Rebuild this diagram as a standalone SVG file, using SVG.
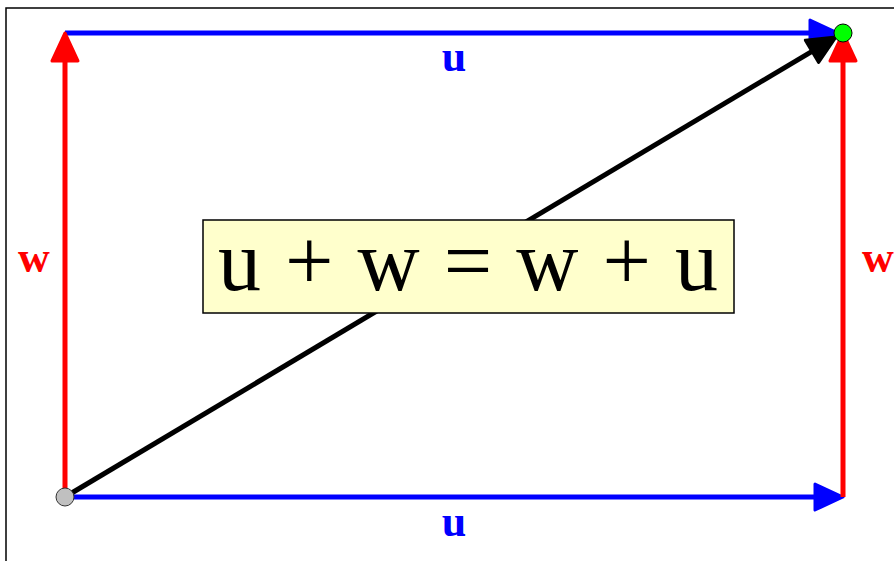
<svg xmlns="http://www.w3.org/2000/svg" width="894" height="561" viewBox="0 0 894 561">
<style>
.lbl{font-family:"Liberation Serif","Times New Roman",serif;font-weight:bold;font-size:44px;text-anchor:middle}
.blue{fill:#0000ff}
.red{fill:#ff0000}
.vec{stroke-width:5;fill:none;stroke-linecap:butt}
</style>
<defs>
<marker id="ab" markerUnits="userSpaceOnUse" markerWidth="40" markerHeight="40" refX="2" refY="0" viewBox="-4 -18 40 36" orient="auto" overflow="visible">
<path d="M0,-13 L28,0 L0,13 Z" fill="#0000ff" stroke="#0000ff" stroke-width="3" stroke-linejoin="round"/>
</marker>
<marker id="ar" markerUnits="userSpaceOnUse" markerWidth="40" markerHeight="40" refX="2" refY="0" viewBox="-4 -18 40 36" orient="auto" overflow="visible">
<path d="M0,-13 L28,0 L0,13 Z" fill="#ff0000" stroke="#ff0000" stroke-width="3" stroke-linejoin="round"/>
</marker>
<marker id="ak" markerUnits="userSpaceOnUse" markerWidth="40" markerHeight="40" refX="2" refY="0" viewBox="-4 -18 40 36" orient="auto" overflow="visible">
<path d="M0,-13 L28,0 L0,13 Z" fill="#000000" stroke="#000000" stroke-width="3" stroke-linejoin="round"/>
</marker>
</defs>
<rect x="0" y="0" width="894" height="561" fill="#ffffff"/>
<rect x="6" y="8" width="900" height="600" fill="#ffffff" stroke="#000000" stroke-width="1.5"/>
<g id="connectors">
<line x1="65" y1="33" x2="812" y2="33" stroke="#0000ff" class="vec" marker-end="url(#ab)"/>
<line x1="65" y1="497" x2="817" y2="497" stroke="#0000ff" class="vec" marker-end="url(#ab)"/>
<line x1="65" y1="497" x2="65" y2="59" stroke="#ff0000" class="vec" marker-end="url(#ar)"/>
<line x1="843" y1="497" x2="843" y2="59" stroke="#ff0000" class="vec" marker-end="url(#ar)"/>
<line x1="65" y1="497" x2="813.7" y2="50.3" stroke="#000000" class="vec" marker-end="url(#ak)"/>
</g>
<g id="label-u-top"><text x="454" y="71" class="lbl blue">u</text></g>
<g id="label-u-bottom"><text x="454" y="536" class="lbl blue">u</text></g>
<g id="label-w-left"><text x="34" y="272" class="lbl red">w</text></g>
<g id="label-w-right"><text x="878" y="272" class="lbl red">w</text></g>
<g id="start-point"><circle cx="65" cy="497" r="9" fill="#c0c0c0" stroke="#333333" stroke-width="1"/></g>
<g id="end-point"><circle cx="843" cy="33" r="9" fill="#00ff00" stroke="#000000" stroke-width="1"/></g>
<g id="equation">
<rect x="203" y="220" width="531" height="93" fill="#ffffcc" stroke="#000000" stroke-width="1.5"/>
<text x="468" y="290" font-family="Liberation Serif, Times New Roman, serif" font-size="86" text-anchor="middle" textLength="500" lengthAdjust="spacing" fill="#000000">u + w = w + u</text>
</g>
</svg>
